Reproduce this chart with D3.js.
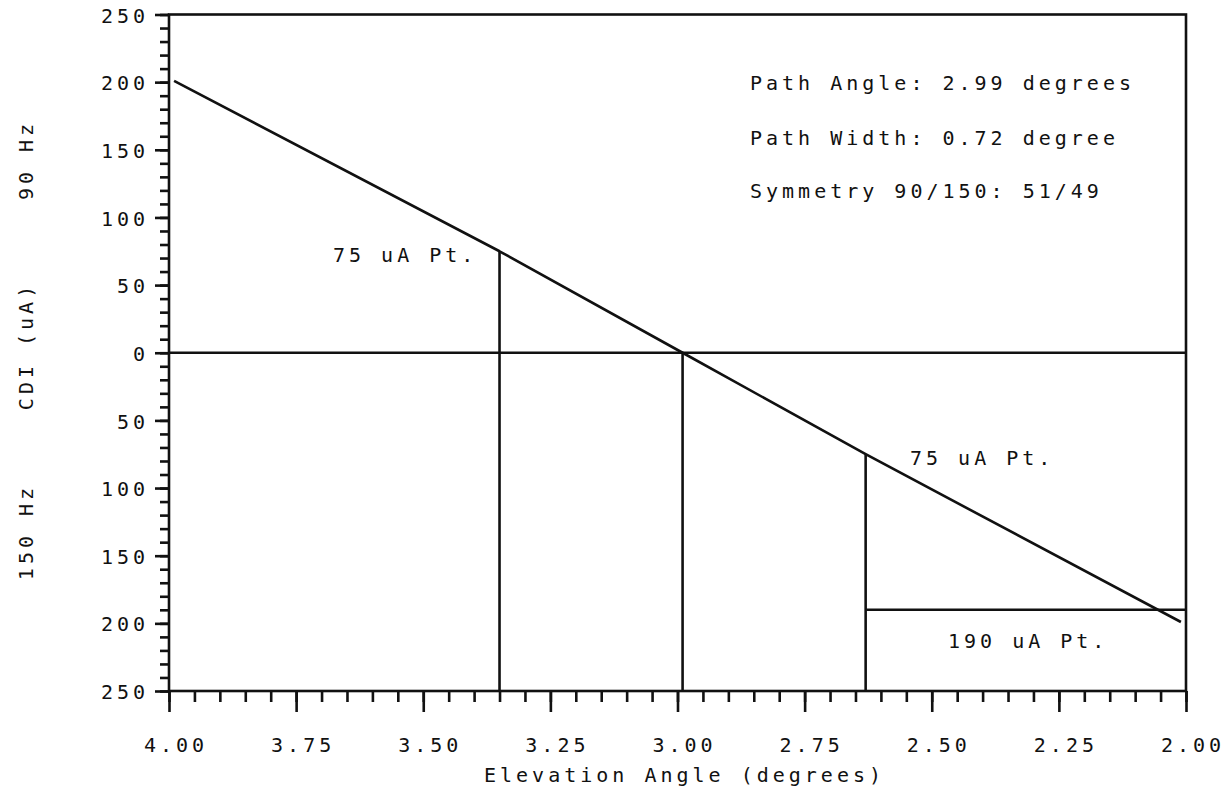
<!DOCTYPE html>
<html>
<head>
<meta charset="utf-8">
<script src="https://cdn.jsdelivr.net/npm/d3@7"></script>
<style>
  html, body { margin: 0; padding: 0; background: #fff; }
  svg text { font-family: "DejaVu Sans Mono", monospace; font-size: 20px; letter-spacing: 4px; fill: #111; }
</style>
</head>
<body>
<svg id="chart" width="1229" height="789"></svg>
<script>
// CDI versus elevation angle (glide path alignment)
const elevation = [3.99, 3.35, 2.99, 2.63, 2.01];
const cdi = [201, 75, 0, -75, -199];

// 75 uA points and the path centre (0 uA)
const markerAngles = [3.35, 2.99, 2.63];
const markerValues = [75, 0, -75];

// 190 uA limit, drawn from the lower 75 uA point to the end of the range
const limitAngles = [2.63, 2.00];
const limitValue = -190;

const yMajorTicks = [250, 200, 150, 100, 50, 0, -50, -100, -150, -200, -250];
const xMajorTicks = [4.00, 3.75, 3.50, 3.25, 3.00, 2.75, 2.50, 2.25, 2.00];

const infoLines = [
  "Path Angle: 2.99 degrees",
  "Path Width: 0.72 degree",
  "Symmetry 90/150: 51/49"
];

const svg = d3.select("#chart");
const x = d3.scaleLinear().domain([4, 2]).range([169, 1186]);
const y = d3.scaleLinear().domain([-250, 250]).range([691, 14.5]);
const ink = "#111";
const sw = 2.6;
const font = '"DejaVu Sans Mono", monospace';

// minor / major ticks on the left axis
const yMinor = d3.range(-250, 251, 10);
svg.append("g").attr("transform", `translate(${x(4)},0)`)
  .call(d3.axisLeft(y).tickValues(yMinor).tickSize(9).tickFormat(""))
  .call(g => g.select(".domain").remove());
svg.append("g").attr("class", "yaxis").attr("transform", `translate(${x(4)},0)`)
  .call(d3.axisLeft(y).tickValues(yMajorTicks).tickSize(14).tickPadding(6)
    .tickFormat(d => Math.abs(d)))
  .call(g => g.select(".domain").remove())
  .call(g => g.selectAll("text").attr("dy", "0.38em"));

// minor / major ticks on the bottom axis
const xMinor = d3.range(0, 41).map(i => 2 + i * 0.05);
svg.append("g").attr("transform", `translate(0,${y(-250)})`)
  .call(d3.axisBottom(x).tickValues(xMinor).tickSize(11).tickFormat(""))
  .call(g => g.select(".domain").remove());
svg.append("g").attr("class", "xaxis").attr("transform", `translate(0,${y(-250)})`)
  .call(d3.axisBottom(x).tickValues(xMajorTicks).tickSize(21).tickPadding(26)
    .tickFormat(d3.format(".2f")))
  .call(g => g.select(".domain").remove())
  .call(g => g.selectAll("text").attr("dx", 6.5));

svg.selectAll(".tick line").attr("stroke", ink).attr("stroke-width", sw);
svg.selectAll(".tick text").attr("fill", ink)
  .style("font-family", font)
  .style("font-size", "20px");

// plot frame
svg.append("rect")
  .attr("x", x(4)).attr("y", y(250))
  .attr("width", x(2) - x(4)).attr("height", y(-250) - y(250))
  .attr("fill", "none").attr("stroke", ink).attr("stroke-width", sw);

// zero line
svg.append("line")
  .attr("x1", x(4)).attr("x2", x(2)).attr("y1", y(0)).attr("y2", y(0))
  .attr("stroke", ink).attr("stroke-width", sw);

// vertical markers from the bottom axis up to the curve
svg.selectAll(".marker").data(markerAngles).join("line")
  .attr("class", "marker")
  .attr("x1", d => x(d)).attr("x2", d => x(d))
  .attr("y1", y(-250)).attr("y2", (d, i) => y(markerValues[i]))
  .attr("stroke", ink).attr("stroke-width", sw);

// 190 uA limit line
svg.append("line")
  .attr("x1", x(limitAngles[0])).attr("x2", x(limitAngles[1]))
  .attr("y1", y(limitValue)).attr("y2", y(limitValue))
  .attr("stroke", ink).attr("stroke-width", sw);

// CDI curve
const pts = elevation.map((e, i) => [e, cdi[i]]);
svg.append("path").datum(pts)
  .attr("d", d3.line().x(d => x(d[0])).y(d => y(d[1])))
  .attr("fill", "none").attr("stroke", ink).attr("stroke-width", sw)
  .attr("stroke-linejoin", "round");

// annotation block
const infoBase = [90, 145, 198];
svg.selectAll(".info").data(infoLines).join("text")
  .attr("class", "info")
  .attr("x", 750).attr("y", (d, i) => infoBase[i])
  .text(d => d);

// point labels
svg.append("text").attr("x", 333).attr("y", 262).text("75 uA Pt.");
svg.append("text").attr("x", 910).attr("y", 465).text("75 uA Pt.");
svg.append("text").attr("x", 948).attr("y", 648).text("190 uA Pt.");

// axis titles
svg.append("text").attr("x", 684.5).attr("y", 782)
  .attr("text-anchor", "middle").text("Elevation Angle (degrees)");

const yTitles = [["90 Hz", 158], ["CDI (uA)", 344], ["150 Hz", 530]];
svg.selectAll(".ytitle").data(yTitles).join("text")
  .attr("class", "ytitle")
  .attr("text-anchor", "middle")
  .attr("transform", d => `translate(33,${d[1] + 2}) rotate(-90)`)
  .text(d => d[0]);
</script>
</body>
</html>
